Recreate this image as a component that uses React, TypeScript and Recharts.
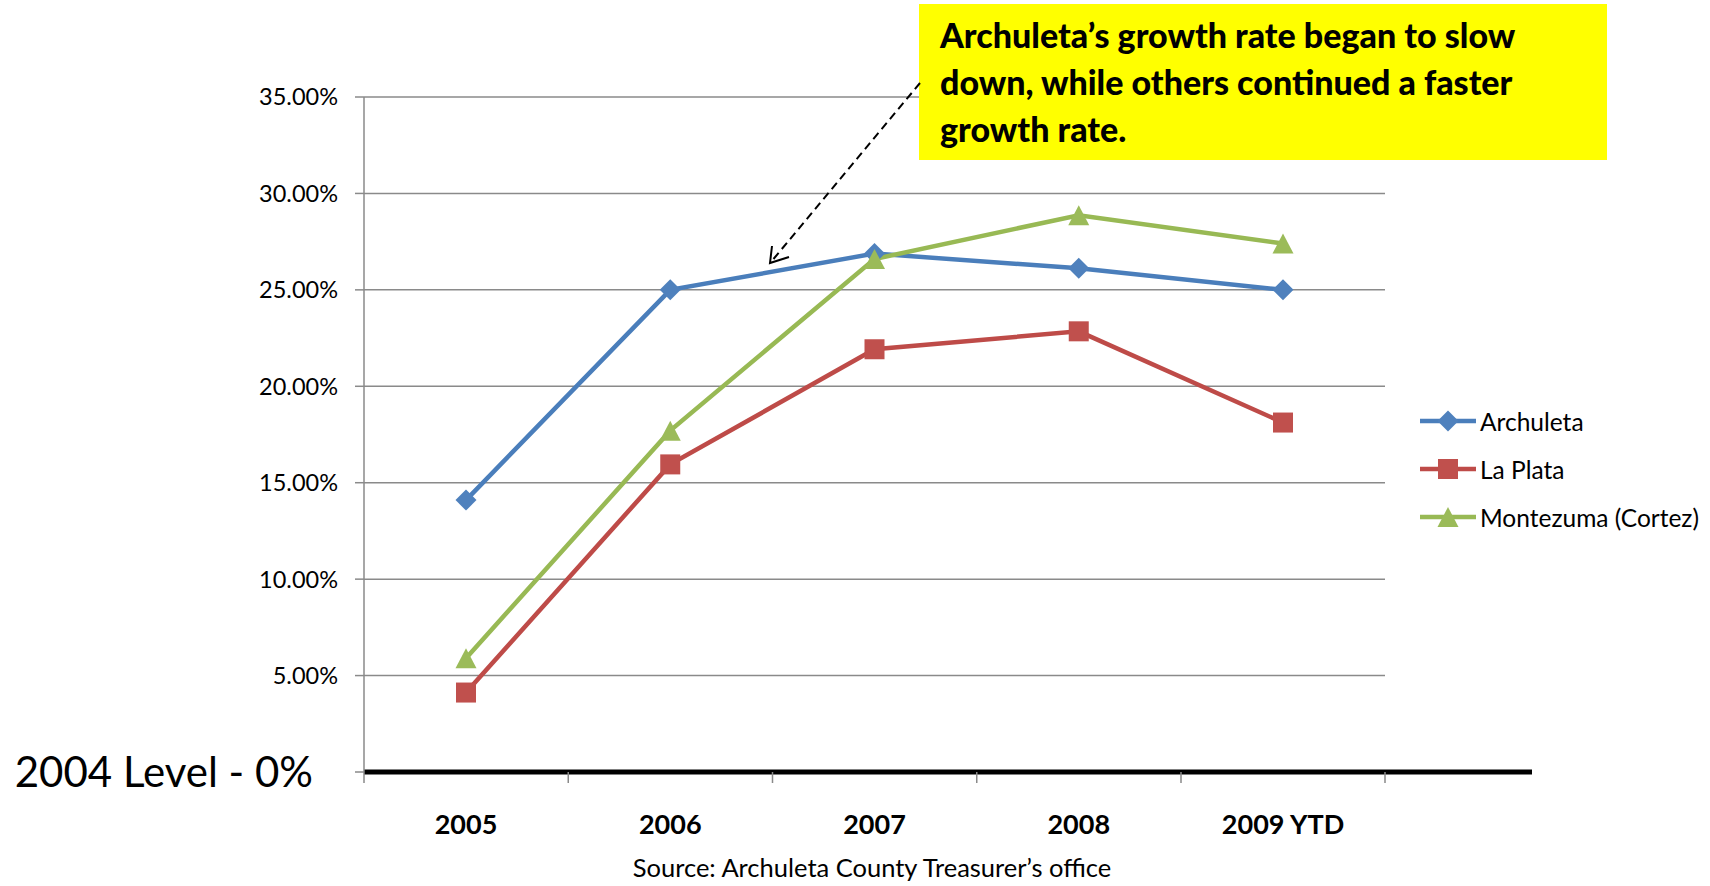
import React from "react"
import {
  LineChart, Line, XAxis, YAxis, CartesianGrid, Legend, ReferenceLine,
} from "recharts"

const years = ["2005", "2006", "2007", "2008", "2009 YTD"]
const archuleta = [14.1, 25.0, 26.88, 26.12, 25.0]
const laPlata = [4.12, 15.95, 21.92, 22.85, 18.12]
const montezuma = [5.9, 17.7, 26.6, 28.87, 27.4]
const yTicks = [0, 5, 10, 15, 20, 25, 30, 35]
const baseLabel = "2004 Level - 0%"
const noteLines = [
  "Archuleta\u2019s growth rate began to slow",
  "down, while others continued a faster",
  "growth rate.",
]
const sourceText = "Source: Archuleta County Treasurer\u2019s office"

const series = [
  { key: "archuleta", name: "Archuleta", line: "#4A7EBB", fill: "#4F81BD", shape: "diamond" },
  { key: "laPlata", name: "La Plata", line: "#BE4B48", fill: "#C0504D", shape: "square" },
  { key: "montezuma", name: "Montezuma (Cortez)", line: "#98B954", fill: "#9BBB59", shape: "triangle" },
]

const data = years.map((year, i) => ({
  year,
  archuleta: archuleta[i],
  laPlata: laPlata[i],
  montezuma: montezuma[i],
}))

const W = 1710
const H = 886
const GRID = "#8a8a8a"
const HALF = 102
const FONT = "Lato, 'Open Sans', sans-serif"

function marker(shape: string, cx: number, cy: number, fill: string, key?: any) {
  if (shape === "diamond") {
    const r = 10.5
    return <polygon key={key} points={`${cx},${cy - r} ${cx + r},${cy} ${cx},${cy + r} ${cx - r},${cy}`} fill={fill} />
  }
  if (shape === "square") {
    return <rect key={key} x={cx - 10} y={cy - 10} width={20} height={20} fill={fill} />
  }
  return <polygon key={key} points={`${cx},${cy - 10} ${cx + 10.5},${cy + 10} ${cx - 10.5},${cy + 10}`} fill={fill} />
}

function YTick({ x, y, payload }: any) {
  const v = payload.value
  return (
    <g>
      <line x1={x - 9} x2={x} y1={y} y2={y} stroke={GRID} strokeWidth={1.5} />
      {v === 0 ? (
        <text x={x - 51} y={y} dy="0.36em" textAnchor="end" fontSize={42} fill="#000" fontFamily={FONT}>
          {baseLabel}
        </text>
      ) : (
        <text x={x - 26} y={y} dy="0.36em" textAnchor="end" fontSize={23.5} fill="#000" fontFamily={FONT}>
          {v.toFixed(2)}%
        </text>
      )}
    </g>
  )
}

function XTick({ x, y, payload, index }: any) {
  return (
    <g>
      <line x1={x - HALF} x2={x - HALF} y1={y} y2={y + 11} stroke={GRID} strokeWidth={1.5} />
      {index === years.length - 1 && (
        <line x1={x + HALF} x2={x + HALF} y1={y} y2={y + 11} stroke={GRID} strokeWidth={1.5} />
      )}
      <text x={x} y={y + 52} dy="0.36em" textAnchor="middle" fontSize={27} fontWeight="bold" fill="#000" fontFamily={FONT}>
        {payload.value}
      </text>
    </g>
  )
}

function LegendBox() {
  return (
    <div style={{ fontFamily: FONT, fontSize: 24.5, color: "#000" }}>
      {series.map((s) => (
        <div key={s.key} style={{ display: "flex", alignItems: "center", height: 48 }}>
          <svg width={56} height={24} style={{ display: "block" }}>
            <line x1={0} x2={56} y1={12} y2={12} stroke={s.line} strokeWidth={4.5} />
            {marker(s.shape, 28, 12, s.fill)}
          </svg>
          <span style={{ marginLeft: 4, whiteSpace: "nowrap" }}>{s.name}</span>
        </div>
      ))}
    </div>
  )
}

export default function App() {
  return (
    <div style={{ position: "absolute", left: 0, top: 0, width: W, height: H, background: "#fff", fontFamily: FONT }}>
      <LineChart width={W} height={H} data={data} margin={{ top: 97, right: 325, bottom: 0, left: 0 }}>
        <CartesianGrid vertical={false} stroke={GRID} strokeWidth={1.5} />
        <XAxis
          dataKey="year"
          height={114}
          padding={{ left: HALF, right: HALF }}
          axisLine={false}
          tickLine={false}
          tickSize={0}
          tickMargin={0}
          interval={0}
          tick={<XTick />}
        />
        <YAxis
          width={364}
          domain={[0, 35]}
          ticks={yTicks}
          axisLine={{ stroke: GRID, strokeWidth: 1.5 }}
          tickLine={false}
          tickSize={0}
          tickMargin={0}
          tick={<YTick />}
        />
        <ReferenceLine
          y={0}
          shape={(p: any) => (
            <line x1={p.x1} x2={p.x2 + 147} y1={p.y1} y2={p.y2} stroke="#000" strokeWidth={5} />
          )}
        />
        <Legend
          layout="vertical"
          align="center"
          verticalAlign="middle"
          content={<LegendBox />}
          wrapperStyle={{ left: 1420, top: 397, width: 290 }}
        />
        {series.map((s) => (
          <Line
            key={s.key}
            dataKey={s.key}
            name={s.name}
            stroke={s.line}
            strokeWidth={4.5}
            isAnimationActive={false}
            dot={(p: any) => marker(s.shape, p.cx, p.cy, s.fill, `${s.key}-${p.index}`)}
            activeDot={false}
          />
        ))}
      </LineChart>
      <svg width={W} height={H} style={{ position: "absolute", left: 0, top: 0, pointerEvents: "none" }}>
        <rect x={919} y={4} width={688} height={156} fill="#FFFF00" />
        {noteLines.map((t, i) => (
          <text key={i} x={940} y={36 + i * 47} dy="0.36em" fontSize={34} fontWeight={900} fill="#000" fontFamily={FONT}>
            {t}
          </text>
        ))}
        <line x1={920} y1={83} x2={771} y2={262} stroke="#000" strokeWidth={2} strokeDasharray="8 5" />
        <polyline points="772,246 770,263 789,257" fill="none" stroke="#000" strokeWidth={2} />
        <text x={872} y={868} dy="0.36em" textAnchor="middle" fontSize={25.5} fill="#000" fontFamily={FONT}>
          {sourceText}
        </text>
      </svg>
    </div>
  )
}
